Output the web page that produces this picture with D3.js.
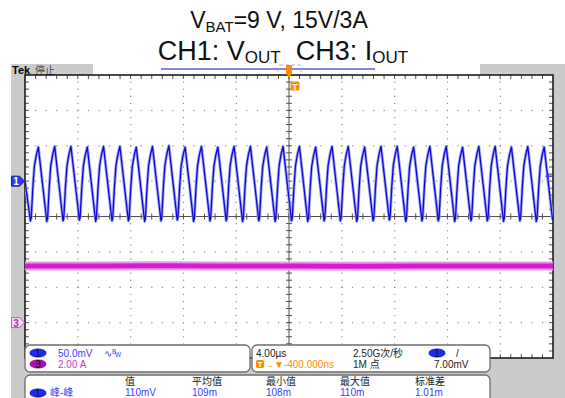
<!DOCTYPE html>
<html>
<head>
<meta charset="utf-8">
<script src="https://cdn.jsdelivr.net/npm/d3@7"></script>
<style>
  html, body { margin: 0; padding: 0; background: #fff; }
  svg { display: block; }
  text { font-family: "Liberation Sans", Arial, "Noto Sans CJK SC", sans-serif; }
</style>
</head>
<body>
<svg id="chart" width="565" height="398"></svg>
<script>
// ---- Data ----
// CH1 (output ripple, mV, AC coupled): time of each crest and trough in µs
const ch1PeakTimes = [-18.99, -17.75, -16.52, -15.28, -14.05, -12.81, -11.57, -10.34, -9.10, -7.87,
  -6.63, -5.39, -4.16, -2.92, -1.69, -0.45, 0.79, 2.02, 3.26, 4.49, 5.73, 6.97, 8.20, 9.44,
  10.67, 11.91, 13.15, 14.38, 15.62, 16.85, 18.09, 19.33];
const ch1PeakMv = [48, 49, 49, 48, 49, 49, 48, 49, 50, 48, 49, 48, 49, 49, 48, 49,
  49, 48, 49, 49, 48, 49, 49, 48, 49, 49, 48, 49, 49, 48, 49, 48];
const ch1TroughTimes = [-19.59, -18.35, -17.12, -15.88, -14.65, -13.41, -12.17, -10.94, -9.70, -8.47,
  -7.23, -5.99, -4.76, -3.52, -2.29, -1.05, 0.19, 1.42, 2.66, 3.89, 5.13, 6.37, 7.60, 8.84,
  10.07, 11.31, 12.55, 13.78, 15.02, 16.25, 17.49, 18.73, 19.97];
const ch1TroughMv = [-56, -57, -56, -55, -57, -56, -56, -57, -56, -55, -57, -56, -56, -57, -56, -57,
  -56, -57, -56, -56, -57, -56, -55, -57, -56, -56, -57, -56, -56, -57, -56, -57, -55];
const ch1StartMv = 0;
// shape of a rising edge: [fraction of rise time, fraction of swing]
const riseShape = [[0, 0], [0.1, 0.04], [0.3, 0.44], [0.5, 0.74], [0.74, 0.89], [1, 1]];

// CH3 (output current, A): band across the record
const ch3Times = [-20, -15, -10, -5, 0, 5, 10, 15, 20];
const ch3Amps = [3.2, 3.2, 3.21, 3.2, 3.2, 3.19, 3.2, 3.2, 3.2];

// ---- Layout ----
const svg = d3.select("#chart");
const X0 = 25, X1 = 553, Y0 = 75, Y1 = 358;
const xDiv = d3.scaleLinear([0, 10], [X0, X1]);
const yDiv = d3.scaleLinear([-4, 4], [Y1, Y0]);
const xT = d3.scaleLinear([-20, 20], [X0, X1]);           // µs
const yCh1 = d3.scaleLinear([-250, 150], [Y1, Y0]);        // 50 mV/div, ground +1 div
const yCh3 = d3.scaleLinear([-2, 14], [Y1, Y0]);           // 2 A/div, ground -3 div

const BLUE = "#0a0ad2", BLUE_HALO = "#a4a4f2", MAG = "#d21ed2", MAG_HALO = "#e79ae7";
const TXT_BLUE = "#3c3cff", TXT_MAG = "#c23cc2", ORANGE = "#ff8c00", GRAY = "#cbcbcb";
const NB = "\u00a0";

// Title
const title = svg.append("g").attr("fill", "#111").attr("text-anchor", "middle");
const t1 = title.append("text").attr("x", 279).attr("y", 28).attr("font-size", 23);
t1.append("tspan").text("V");
t1.append("tspan").attr("font-size", 15).attr("dy", 4).text("BAT");
t1.append("tspan").attr("dy", -4).text("=9 V, 15V/3A");
const t2 = title.append("text").attr("x", 283).attr("y", 60).attr("font-size", 27);
t2.append("tspan").text("CH1: V");
t2.append("tspan").attr("font-size", 17).attr("dy", 3).text("OUT");
t2.append("tspan").attr("dy", -3).text(NB + NB + "CH3: I");
t2.append("tspan").attr("font-size", 17).attr("dy", 3).text("OUT");

// Screen background
svg.append("rect").attr("x", 11).attr("y", 64).attr("width", 554).attr("height", 334).attr("fill", GRAY);
svg.append("rect").attr("x", X0).attr("y", Y0).attr("width", X1 - X0).attr("height", Y1 - Y0).attr("fill", "#fff");

// Status bar
svg.append("rect").attr("x", 93).attr("y", 64).attr("width", 387).attr("height", 11).attr("fill", "#fff");
svg.append("line").attr("x1", 161).attr("x2", 375).attr("y1", 69).attr("y2", 69)
  .attr("stroke", "#5a5ae6").attr("stroke-width", 1.3);
svg.append("rect").attr("x", 278).attr("y", 65).attr("width", 23).attr("height", 10).attr("rx", 2)
  .attr("fill", "none").attr("stroke", "#aaa").attr("stroke-dasharray", "3,3");
svg.append("text").attr("x", 12).attr("y", 74).attr("font-size", 11).attr("font-weight", "bold").text("Tek");
svg.append("text").attr("x", 35).attr("y", 74).attr("font-size", 10).attr("fill", "#444").text("停止");

// Grid dots
const grid = svg.append("g").attr("fill", "#8a8a8a");
for (let i = 1; i < 10; i++) {
  if (i === 5) continue;
  for (let m = 1; m < 40; m++) {
    grid.append("rect").attr("x", xDiv(i) - 0.5).attr("y", yDiv(-4 + m / 5) - 0.5).attr("width", 1.2).attr("height", 1.2);
  }
}
for (let j = -3; j <= 3; j++) {
  if (j === 0) continue;
  for (let m = 1; m < 50; m++) {
    grid.append("rect").attr("x", xDiv(m / 5) - 0.5).attr("y", yDiv(j) - 0.5).attr("width", 1.2).attr("height", 1.2);
  }
}
// Centre cross with minor ticks
const cross = svg.append("g").attr("stroke", "#505050").attr("stroke-width", 1);
cross.append("line").attr("x1", X0).attr("x2", X1).attr("y1", yDiv(0)).attr("y2", yDiv(0));
cross.append("line").attr("x1", xDiv(5)).attr("x2", xDiv(5)).attr("y1", Y0).attr("y2", Y1);
for (let m = 1; m < 50; m++) {
  cross.append("line").attr("x1", xDiv(m / 5)).attr("x2", xDiv(m / 5)).attr("y1", yDiv(0) - 3).attr("y2", yDiv(0) + 3);
  cross.append("line").attr("x1", xDiv(m / 5)).attr("x2", xDiv(m / 5)).attr("y1", Y0).attr("y2", Y0 + 4);
  cross.append("line").attr("x1", xDiv(m / 5)).attr("x2", xDiv(m / 5)).attr("y1", Y1).attr("y2", Y1 - 4);
}
for (let m = 1; m < 40; m++) {
  const y = yDiv(-4 + m / 5);
  cross.append("line").attr("x1", xDiv(5) - 3).attr("x2", xDiv(5) + 3).attr("y1", y).attr("y2", y);
  cross.append("line").attr("x1", X0).attr("x2", X0 + 4).attr("y1", y).attr("y2", y);
  cross.append("line").attr("x1", X1).attr("x2", X1 - 4).attr("y1", y).attr("y2", y);
}
svg.append("rect").attr("x", X0).attr("y", Y0).attr("width", X1 - X0).attr("height", Y1 - Y0)
  .attr("fill", "none").attr("stroke", "#111").attr("stroke-width", 1.5);

// CH3 current band
const ch3Line = d3.line().x((d, i) => xT(ch3Times[i])).y(d => yCh3(d));
svg.append("path").attr("d", ch3Line(ch3Amps)).attr("fill", "none").attr("stroke", MAG_HALO).attr("stroke-width", 9);
svg.append("path").attr("d", ch3Line(ch3Amps)).attr("fill", "none").attr("stroke", MAG).attr("stroke-width", 5);

// CH1 ripple: troughs, shaped rising edges, crests and straight falling edges
const ch1Pts = [[-20, ch1StartMv]];
ch1PeakTimes.forEach((tp, k) => {
  const t0 = ch1TroughTimes[k], v0 = ch1TroughMv[k], v1 = ch1PeakMv[k];
  riseShape.forEach(([ft, fv]) => ch1Pts.push([t0 + ft * (tp - t0), v0 + fv * (v1 - v0)]));
});
ch1Pts.push([ch1TroughTimes[ch1TroughTimes.length - 1], ch1TroughMv[ch1TroughMv.length - 1]]);
const ch1Line = d3.line().x(d => xT(d[0])).y(d => yCh1(d[1]));
const clip = svg.append("clipPath").attr("id", "plotclip");
clip.append("rect").attr("x", X0).attr("y", Y0).attr("width", X1 - X0).attr("height", Y1 - Y0);
svg.append("path").attr("d", ch1Line(ch1Pts)).attr("clip-path", "url(#plotclip)")
  .attr("fill", "none").attr("stroke", BLUE_HALO).attr("stroke-width", 3).attr("stroke-linejoin", "round");
svg.append("path").attr("d", ch1Line(ch1Pts)).attr("clip-path", "url(#plotclip)")
  .attr("fill", "none").attr("stroke", BLUE).attr("stroke-width", 1.3).attr("stroke-linejoin", "round");

// Trigger markers
svg.append("path").attr("d", `M${xDiv(5) - 3},65 h6 v8 l-3,5 l-3,-5 z`).attr("fill", ORANGE);
svg.append("rect").attr("x", 290.5).attr("y", 81.5).attr("width", 9).attr("height", 9).attr("rx", 1.5).attr("fill", ORANGE);
svg.append("text").attr("x", 295).attr("y", 89.5).attr("font-size", 9).attr("font-weight", "bold")
  .attr("fill", "#fff").attr("text-anchor", "middle").text("T");
const trigY = yCh1(7);
svg.append("line").attr("x1", 546).attr("x2", 552).attr("y1", trigY).attr("y2", trigY).attr("stroke", "#3c3cff").attr("stroke-width", 1.5);
svg.append("path").attr("d", `M545,${trigY} l4,-3 v6 z`).attr("fill", "#3c3cff");

// Channel ground markers
function chMarker(y, label, fill, stroke, color) {
  svg.append("path").attr("d", `M11.5,${y - 5} h8 l5,5 l-5,5 h-8 z`)
    .attr("fill", fill).attr("stroke", stroke).attr("stroke-width", 1);
  svg.append("text").attr("x", 16).attr("y", y + 4).attr("font-size", 10).attr("font-weight", "bold")
    .attr("text-anchor", "middle").attr("fill", color).text(label);
}
chMarker(yCh1(0), "1", "#2a3cf0", "#1a1aa0", "#fff");
chMarker(yCh3(0), "3", "#f6e0f6", "#c050c0", "#b030b0");

// Readout panels
function panel(x, y, w, h) {
  svg.append("rect").attr("x", x).attr("y", y).attr("width", w).attr("height", h).attr("rx", 5)
    .attr("fill", "#fff").attr("stroke", "#6e6e6e").attr("stroke-width", 1.3);
}
function badge(cx, cy, label, fill) {
  svg.append("ellipse").attr("cx", cx).attr("cy", cy).attr("rx", 8.5).attr("ry", 4.5).attr("fill", fill);
  svg.append("text").attr("x", cx).attr("y", cy + 3.5).attr("font-size", 10).attr("text-anchor", "middle")
    .attr("fill", "#111").text(label);
}
function label(x, y, txt, color, size) {
  return svg.append("text").attr("x", x).attr("y", y).attr("font-size", size || 10).attr("fill", color).text(txt);
}
panel(25, 345, 225, 27);
panel(252, 345, 238, 27);
panel(25, 375, 465, 30);

badge(38, 353, "1", "#1a2cf0");
label(58, 357, "50.0mV", TXT_BLUE);
label(104, 357, "∿", TXT_BLUE);
svg.append("text").attr("x", 112).attr("y", 354).attr("font-size", 6.5).attr("fill", TXT_BLUE).text("B");
svg.append("text").attr("x", 115).attr("y", 357).attr("font-size", 6.5).attr("fill", TXT_BLUE).text("W");
badge(38, 364, "3", "#a214a2");
label(58, 368, "2.00 A", TXT_MAG);

label(256, 357, "4.00µs", "#222");
label(353, 357, "2.50G次/秒", "#222");
badge(437, 353, "1", "#1a2cf0");
label(456, 357, "/", "#222");
svg.append("rect").attr("x", 256).attr("y", 360).attr("width", 8).attr("height", 8).attr("rx", 1.5).attr("fill", ORANGE);
svg.append("text").attr("x", 260).attr("y", 367).attr("font-size", 7.5).attr("font-weight", "bold")
  .attr("text-anchor", "middle").attr("fill", "#fff").text("T");
label(264, 368, "→▼-400.000ns", ORANGE);
label(353, 368, "1M 点", "#222");
label(434, 368, "7.00mV", "#222");

// Measurement table
const measHeaders = ["值", "平均值", "最小值", "最大值", "标准差"];
const measValues = ["110mV", "109m", "108m", "110m", "1.01m"];
const measX = [125, 192, 266, 340, 415];
measHeaders.forEach((h, i) => label(measX[i], 385, h, "#222"));
measValues.forEach((v, i) => label(measX[i], 396, v, TXT_BLUE));
badge(38, 393, "1", "#1a2cf0");
label(50, 396, "峰-峰", TXT_BLUE);
</script>
</body>
</html>
